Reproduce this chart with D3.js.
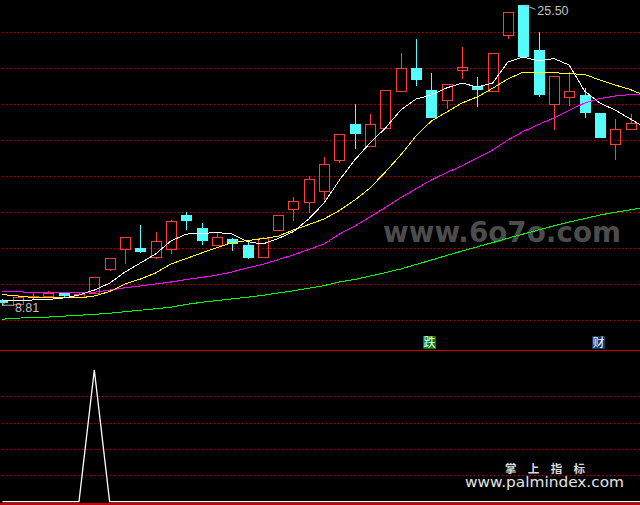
<!DOCTYPE html>
<html><head><meta charset="utf-8">
<script src="https://cdn.jsdelivr.net/npm/d3@7/dist/d3.min.js"></script>
<style>html,body{margin:0;padding:0;background:#000;overflow:hidden}svg{display:block}</style>
</head><body><svg id="c" width="640" height="505"></svg>
<script>
// ---- data ----
const opens  = [9.13,8.93,9.31,9.37,9.53,9.31,9.53,10.87,11.94,12.02,11.50,11.98,13.85,13.13,12.20,12.52,12.18,11.50,12.99,14.21,14.60,15.20,16.89,18.91,17.70,18.70,20.76,22.02,20.79,20.22,21.92,21.02,20.76,23.87,25.50,23.02,20.03,20.42,20.52,19.52,17.81,18.64];
const closes = [8.98,9.28,9.33,9.53,9.35,9.46,10.39,11.44,12.61,11.81,12.39,13.50,13.53,12.42,12.61,12.24,11.46,12.56,13.83,14.61,15.83,16.67,18.33,18.37,18.89,20.78,22.00,21.35,19.26,21.11,22.07,20.81,22.83,25.11,22.63,20.52,21.56,20.74,19.53,18.14,18.61,18.94];
const highs  = [9.18,9.41,9.53,9.64,9.57,9.53,10.39,11.44,12.63,13.29,12.91,13.57,14.02,13.42,12.87,12.59,12.37,12.63,13.83,14.85,16.03,17.07,18.33,20.02,19.46,20.78,22.85,23.63,21.72,21.11,23.18,21.50,22.83,25.11,25.50,24.00,21.56,21.79,20.92,19.52,19.18,19.46];
const lows   = [8.81,8.91,9.18,9.22,9.28,9.24,9.50,10.76,11.11,11.72,11.39,11.67,13.02,12.20,12.20,11.87,11.41,11.50,12.99,13.53,13.94,14.68,16.76,17.53,17.70,18.70,20.76,21.02,19.26,19.76,21.42,19.87,20.76,23.64,22.63,20.42,18.59,19.91,19.26,18.14,16.92,18.64];
const maWhite   = [9.07,9.10,9.13,9.16,9.24,9.41,9.68,10.06,10.68,11.18,11.68,12.41,12.79,12.82,12.88,12.79,12.37,12.24,12.54,12.93,13.63,14.52,15.79,16.91,17.85,18.68,19.68,20.29,20.52,20.91,21.18,20.96,21.18,22.35,22.63,22.41,22.54,22.18,20.74,20.07,19.68,19.18,18.68];
const maYellow  = [9.43,9.35,9.27,9.24,9.24,9.24,9.35,9.60,10.02,10.29,10.63,11.13,11.43,11.74,12.04,12.31,12.43,12.54,12.67,13.02,13.32,13.63,14.10,14.68,15.35,16.24,17.18,18.24,19.07,19.57,20.07,20.41,20.89,21.41,21.79,21.79,21.76,21.70,21.66,21.35,21.07,20.82,20.46];
const maMagenta = [9.59,9.59,9.54,9.53,9.53,9.53,9.56,9.68,9.81,9.91,10.02,10.13,10.27,10.38,10.51,10.69,10.91,11.11,11.37,11.64,11.94,12.24,12.79,13.24,13.74,14.27,14.81,15.31,15.79,16.21,16.58,17.02,17.46,18.02,18.49,18.88,19.24,19.66,20.07,20.32,20.46,20.54,20.60];
const maGreen   = [8.06,8.12,8.16,8.18,8.23,8.28,8.33,8.39,8.48,8.56,8.64,8.73,8.88,9.00,9.10,9.19,9.28,9.39,9.52,9.64,9.78,9.93,10.13,10.27,10.46,10.65,10.85,11.10,11.35,11.60,11.85,12.08,12.32,12.56,12.79,13.02,13.25,13.46,13.65,13.85,14.00,14.14,14.29];
const signal    = [0,0,0,0,0,0,100,0,0,0,0,0,0,0,0,0,0,0,0,0,0,0,0,0,0,0,0,0,0,0,0,0,0,0,0,0,0,0,0,0,0,0,0];
const priceTicks = [8,10,12,14,16,18,20,22,24];
const subTicks   = [20,40,60,80];
const markers = [{bar:28, text:"跌", bg:"#008000"}, {bar:39, text:"财", bg:"#0b3a6e"}];

// ---- drawing ----
const svg = d3.select("#c");
svg.append("rect").attr("width",640).attr("height",505).attr("fill","#000");

const x = d3.scaleLinear().domain([0,41]).range([2.4,630.5]);
const y = d3.scaleLinear().domain([8,24]).range([320.3,32.3]);
const ys = d3.scaleLinear().domain([0,100]).range([501.7,370]);
const px = v => Math.round(v) + 0.5;

// grid lines
const grid = svg.append("g").attr("stroke","#c80000").attr("stroke-width",1).attr("stroke-dasharray","1,3").attr("shape-rendering","crispEdges");
grid.selectAll("line.p").data(priceTicks).join("line").attr("class","p")
  .attr("x1",2).attr("x2",640).attr("y1",d=>px(y(d))).attr("y2",d=>px(y(d)));
grid.selectAll("line.s").data(subTicks).join("line").attr("class","s")
  .attr("x1",2).attr("x2",640).attr("y1",d=>px(ys(d))).attr("y2",d=>px(ys(d)));

// panel separators
svg.append("line").attr("x1",0).attr("x2",640).attr("y1",350.5).attr("y2",350.5)
  .attr("stroke","#d00000").attr("stroke-width",1).attr("shape-rendering","crispEdges");
svg.append("line").attr("x1",0).attr("x2",640).attr("y1",504).attr("y2",504)
  .attr("stroke","#d00000").attr("stroke-width",2).attr("shape-rendering","crispEdges");

// watermark
svg.append("text").attr("x",383).attr("y",242).attr("textLength",238).attr("lengthAdjust","spacingAndGlyphs")
  .attr("font-family","DejaVu Sans").attr("font-weight","bold").attr("font-size",28)
  .attr("fill","#4c4c4c").text("www.6o7o.com");

// candles
const idx = d3.range(opens.length);
const cg = svg.append("g").attr("shape-rendering","crispEdges");
idx.forEach(i => {
  const cx = Math.round(x(i));
  const up = closes[i] >= opens[i];
  const top = Math.round(y(Math.max(opens[i],closes[i])));
  const bot = Math.round(y(Math.min(opens[i],closes[i])));
  const hi = Math.round(y(highs[i])), lo = Math.round(y(lows[i]));
  if (up) {
    const col = "#ff3a3a";
    if (hi < top) cg.append("line").attr("x1",cx+0.5).attr("x2",cx+0.5).attr("y1",hi).attr("y2",top).attr("stroke",col);
    if (lo > bot) cg.append("line").attr("x1",cx+0.5).attr("x2",cx+0.5).attr("y1",bot).attr("y2",lo).attr("stroke",col);
    cg.append("rect").attr("x",cx-4.5).attr("y",top+0.5).attr("width",10).attr("height",Math.max(bot-top,1))
      .attr("fill","none").attr("stroke",col);
  } else {
    const col = "#54fcfc";
    cg.append("line").attr("x1",cx+0.5).attr("x2",cx+0.5).attr("y1",hi).attr("y2",lo).attr("stroke",col);
    cg.append("rect").attr("x",cx-5).attr("y",top).attr("width",11).attr("height",Math.max(bot-top,2)).attr("fill",col);
  }
});

// moving average lines
const line = d3.line().x((d,i)=>x(i)).y(d=>y(d));
const lg = svg.append("g").attr("fill","none").attr("stroke-width",1).attr("shape-rendering","crispEdges");
[[maGreen,"#00ff00"],[maMagenta,"#ff00ff"],[maYellow,"#ffff00"],[maWhite,"#ffffff"]].forEach(([arr,col])=>{
  lg.append("path").attr("d",line(arr)).attr("stroke",col);
});

// high / low labels
const maxI = d3.maxIndex(highs), minI = d3.minIndex(lows);
const hx = x(maxI), hy = y(highs[maxI]);
const lab = svg.append("g").attr("stroke","#b8b8b8").attr("fill","none").attr("stroke-width",1);
lab.append("path").attr("d",`M${hx+2},${hy} L${hx+12},${hy+4} M${hx+2},${hy} l4,0 M${hx+2},${hy} l1,3`);
svg.append("text").attr("x",hx+14).attr("y",hy+10).attr("font-family","Liberation Sans").attr("font-size",12.5)
  .attr("fill","#c0c0c0").text(d3.format(".2f")(highs[maxI]));
const lx = x(minI), ly = y(lows[minI]);
lab.append("path").attr("d",`M${lx},${ly-0.5} L${lx+12},${ly-0.5} M${lx},${ly-0.5} l3,-3 M${lx},${ly-0.5} l0,-4`);
svg.append("text").attr("x",lx+12.5).attr("y",ly+6).attr("font-family","Liberation Sans").attr("font-size",12.5)
  .attr("fill","#c0c0c0").text(d3.format(".2f")(lows[minI]));

// markers
markers.forEach(m=>{
  const mx = Math.round(x(m.bar)) - 8;
  svg.append("rect").attr("x",mx).attr("y",336).attr("width",13).attr("height",13).attr("fill",m.bg);
  svg.append("text").attr("x",mx+6.5).attr("y",347).attr("text-anchor","middle")
    .attr("font-family","Noto Sans CJK SC").attr("font-size",12).attr("fill","#ffffff").text(m.text);
});

// sub-panel signal
const sline = d3.line().x((d,i)=>x(i)).y(d=>ys(d));
svg.append("path").attr("d",sline(signal)).attr("fill","none").attr("stroke","#ffffff").attr("stroke-width",1.3);

// footer branding
svg.append("text").attr("x",505).attr("y",472.5).attr("textLength",80).attr("lengthAdjust","spacing")
  .attr("font-family","Noto Sans CJK SC").attr("font-weight","bold").attr("font-size",11.5).attr("fill","#d8d8d8").text("掌上指标");
svg.append("text").attr("x",465).attr("y",487).attr("textLength",159).attr("lengthAdjust","spacingAndGlyphs")
  .attr("font-family","DejaVu Sans").attr("font-size",14).attr("fill","#e4e4e4").text("www.palmindex.com");
</script></body></html>
